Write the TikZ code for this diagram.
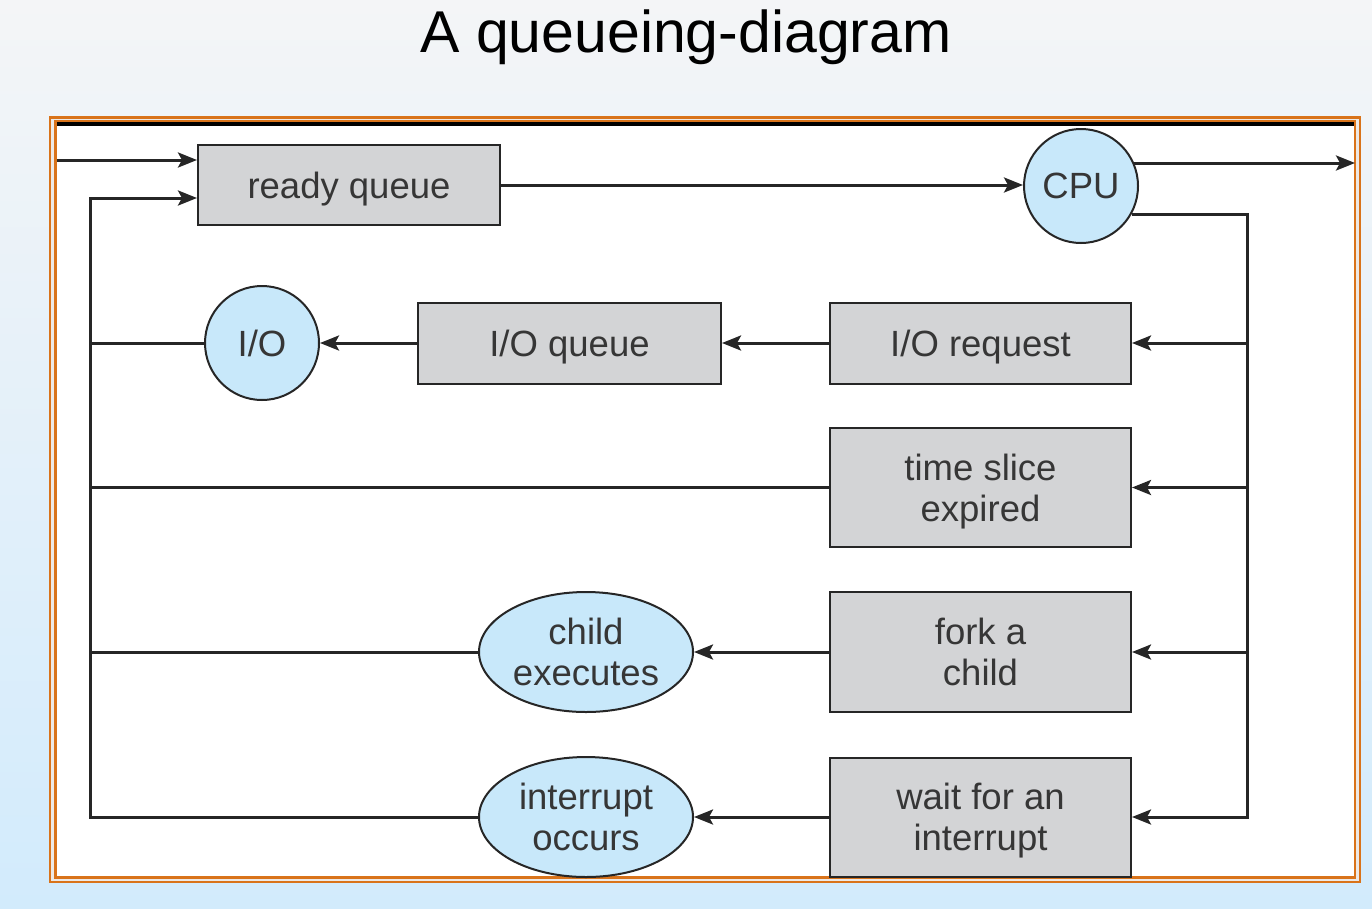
\documentclass[tikz,border=0pt]{standalone}
\usepackage{fontspec}
\setmainfont{Liberation Sans}
\usetikzlibrary{arrows.meta,shapes.geometric}
\definecolor{bgtop}{HTML}{F4F5F7}
\definecolor{bgbot}{HTML}{D2EBFC}
\definecolor{frameor}{HTML}{D9731A}
\definecolor{gapcol}{HTML}{EDE9E6}
\definecolor{boxfill}{HTML}{D3D4D6}
\definecolor{circfill}{HTML}{C8E8FA}
\definecolor{linecol}{HTML}{262626}
\definecolor{txtcol}{HTML}{363636}
\tikzset{
  lbl/.style={font=\fontsize{36.5}{41}\selectfont, text=txtcol, align=center, inner sep=0pt, text depth=0pt},
  qbox/.style={lbl, draw=linecol, line width=2pt, fill=boxfill, rectangle},
  srv/.style={lbl, draw=linecol, line width=2pt, fill=circfill, circle, minimum size=114pt},
  srvell/.style={lbl, draw=linecol, line width=2pt, fill=circfill, ellipse, minimum width=214pt, minimum height=120pt},
  conn/.style={draw=linecol, line width=3pt},
  arr/.style={conn, -{Stealth[length=19pt,width=15pt,inset=4pt]}},
}
\begin{document}
\begin{tikzpicture}[x=1pt,y=-1pt]
\useasboundingbox (0,0) rectangle (1372,908);
\shade[top color=bgtop, bottom color=bgbot] (0,0) rectangle (1372,908);
% title
\node[anchor=base, inner sep=0pt, font=\fontsize{59}{66}\selectfont] (title) at (686,52) {A queueing-diagram};
% frame
\draw[frameor, line width=2.2pt, fill=gapcol] (50,117.5) rectangle (1360,882);
\draw[frameor, line width=2.2pt, fill=white] (55.5,121) rectangle (1355,877.5);
\draw[black, line width=4pt] (57,124) -- (1354,124);
% nodes
\node[qbox, minimum width=302pt, minimum height=80pt] (ready) at (349,185) {ready queue};
\node[srv] (cpu) at (1081,186) {CPU};
\node[srv] (io) at (262,343) {I/O};
\node[qbox, minimum width=303pt, minimum height=81pt] (ioq) at (569.5,343) {I/O queue};
\node[qbox, minimum width=301pt, minimum height=81pt] (ioreq) at (980.5,343) {I/O request};
\node[qbox, minimum width=301pt, minimum height=119pt] (tslice) at (980.5,487.5) {time slice\\expired};
\node[qbox, minimum width=301pt, minimum height=120pt] (fork) at (980.5,652) {fork a\\child};
\node[qbox, minimum width=301pt, minimum height=119pt] (wait) at (980.5,817) {wait for an\\interrupt};
\node[srvell] (child) at (586,652) {child\\executes};
\node[srvell] (intr) at (586,817) {interrupt\\occurs};
% coordinates
\coordinate (in) at (57,160);
\coordinate (lb) at (90,198);
\coordinate (out) at (1355,163);
\coordinate (rb) at (1247,214);
% connectors
\draw[arr] (in) -- (in -| ready.west);
\draw[arr] (intr.west) -- (intr.west -| lb) -- (lb) -- (lb -| ready.west);
\draw[conn] (io.west) -- (io.west -| lb);
\draw[conn] (tslice.west) -- (tslice.west -| lb);
\draw[conn] (child.west) -- (child.west -| lb);
\draw[arr] (ready.east) -- (ready.east -| cpu.west);
\draw[arr] (cpu.23.8 |- out) -- (out);
\draw[arr] (cpu.-29.4 |- rb) -- (rb) |- (wait.east);
\draw[arr] (rb |- ioreq.east) -- (ioreq.east);
\draw[arr] (rb |- tslice.east) -- (tslice.east);
\draw[arr] (rb |- fork.east) -- (fork.east);
\draw[arr] (ioreq.west) -- (ioq.east);
\draw[arr] (ioq.west) -- (io.east);
\draw[arr] (fork.west) -- (child.east);
\draw[arr] (wait.west) -- (intr.east);
\end{tikzpicture}
\end{document}
